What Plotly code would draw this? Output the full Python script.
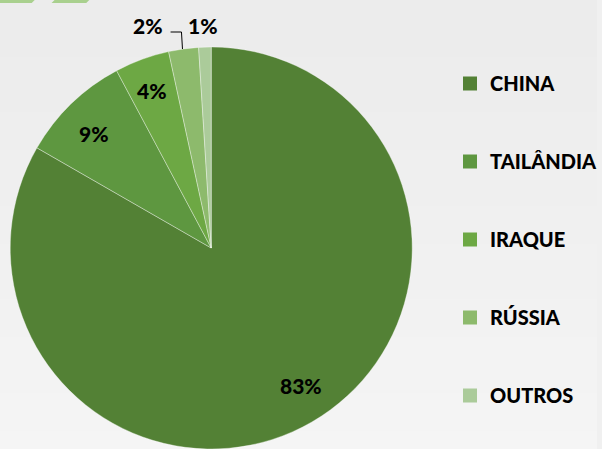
import plotly.graph_objects as go
import numpy as np

# ---- data ----
categories = ["CHINA", "TAILÂNDIA", "IRAQUE", "RÚSSIA", "OUTROS"]
shares = [83.3, 8.9, 4.4, 2.4, 1.0]
slice_colors = ["#538135", "#5E9740", "#6DA844", "#8DBA6C", "#ABCB9A"]

W, H = 602, 449

def px(x):
    return x / W

def py(y):
    return 1 - y / H

fig = go.Figure()

fig.add_trace(go.Pie(
    labels=categories,
    values=shares,
    sort=False,
    direction="clockwise",
    rotation=0,
    marker=dict(colors=slice_colors, line=dict(color="rgba(255,255,255,0.35)", width=1)),
    textinfo="none",
    hoverinfo="label+percent",
    showlegend=False,
    domain=dict(x=[0, 0.7076], y=[0, 0.8953]),
))

# legend entries (one group per category for spacing)
for lab, col in zip(categories, slice_colors):
    fig.add_trace(go.Scatter(
        x=[None], y=[None], mode="markers",
        marker=dict(symbol="square", size=14, color=col),
        name=lab, legendgroup=lab, showlegend=True, hoverinfo="skip",
    ))

# percentage labels (positions in pixels)
label_pos = [(304, 385), (95, 133), (153, 91), (149, 25), (205, 25)]
total = sum(shares)
annotations = []
for (x, y), v in zip(label_pos, shares):
    annotations.append(dict(
        x=px(x), y=py(y), xref="paper", yref="paper",
        text=f"{round(v / total * 100):d}%", showarrow=False,
        font=dict(family="Lato", size=21, color="#000000", weight=900),
        xanchor="center", yanchor="middle",
    ))

shapes = []
# subtle vertical background gradient
n = 24
c0, c1 = np.array([236, 236, 236]), np.array([245, 245, 245])
for i in range(n):
    c = (c0 + (c1 - c0) * i / (n - 1)).astype(int)
    shapes.append(dict(type="rect", xref="paper", yref="paper",
                       x0=0, x1=1, y0=1 - (i + 1) / n - 0.002, y1=1 - i / n,
                       fillcolor=f"rgb({c[0]},{c[1]},{c[2]})", line=dict(width=0), layer="below"))
# decorative parallelograms at top-left
for x0 in (0, 55):
    path = f"M {px(x0)} {py(0)} L {px(x0 + 35)} {py(0)} L {px(x0 + 32)} {py(3)} L {px(x0 - 3)} {py(3)} Z"
    shapes.append(dict(type="path", xref="paper", yref="paper", path=path,
                       fillcolor="#A9D08E", line=dict(width=0), layer="below"))
# leader line for 2%
shapes.append(dict(type="path", xref="paper", yref="paper",
                   path=f"M {px(172)} {py(32)} L {px(183)} {py(32)} L {px(184)} {py(49)}",
                   line=dict(color="#000000", width=1)))

fig.update_layout(
    width=W, height=H,
    margin=dict(l=0, r=0, t=0, b=0),
    paper_bgcolor="#F0F0F0",
    plot_bgcolor="rgba(0,0,0,0)",
    xaxis=dict(visible=False),
    yaxis=dict(visible=False),
    annotations=annotations,
    shapes=shapes,
    showlegend=True,
    legend=dict(
        x=px(454), y=py(64), xanchor="left", yanchor="top",
        font=dict(family="Lato", size=20, color="#000000", weight=900),
        tracegroupgap=49, bgcolor="rgba(0,0,0,0)",
        itemclick=False, itemdoubleclick=False,
    ),
)

fig.write_html("out.html", config={"displayModeBar": False},
               post_script="document.body.style.margin='0px';document.body.style.overflow='hidden';")
